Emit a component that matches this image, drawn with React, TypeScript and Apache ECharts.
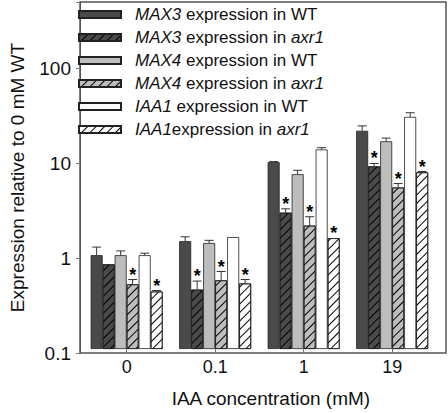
import React, { useEffect, useRef } from "react";
import * as echarts from "echarts";

const categories = ["0", "0.1", "1", "19"];
const seriesNames = [
  "MAX3 expression in WT",
  "MAX3 expression in axr1",
  "MAX4 expression in WT",
  "MAX4 expression in axr1",
  "IAA1 expression in WT",
  "IAA1expression in axr1",
];
const max3WT = [1.0, 1.41, 9.8, 21.2];
const max3Axr1 = [0.8, 0.43, 2.84, 8.85];
const max4WT = [1.0, 1.35, 7.3, 16.4];
const max4Axr1 = [0.49, 0.54, 2.07, 5.27];
const iaa1WT = [1.0, 1.56, 13.4, 29.8];
const iaa1Axr1 = [0.41, 0.5, 1.52, 7.64];
// upper ends of error bars (null = no visible bar)
const max3WTErr = [1.22, 1.57, 9.95, 23.9];
const max3Axr1Err = [null, 0.53, 3.12, 9.5];
const max4WTErr = [1.11, 1.44, 8.04, 17.7];
const max4Axr1Err = [0.55, 0.67, 2.57, 5.8];
const iaa1WTErr = [1.05, null, 14.0, 33.0];
const iaa1Axr1Err = [0.42, 0.55, null, 7.8];
// significance stars
const max3WTSig = [0, 0, 0, 0];
const max3Axr1Sig = [0, 1, 1, 1];
const max4WTSig = [0, 0, 0, 0];
const max4Axr1Sig = [1, 1, 1, 1];
const iaa1WTSig = [0, 0, 0, 0];
const iaa1Axr1Sig = [1, 1, 1, 1];
const yTicks = [0.1, 1, 10, 100];

const FONT = "'Liberation Sans', Arial, sans-serif";
const BAR_W = 12;

export default function App() {
  const ref = useRef<HTMLDivElement>(null);
  useEffect(() => {
    if (!ref.current) return;
    const chart = echarts.init(ref.current, undefined, { renderer: "svg" });
    const values = [max3WT, max3Axr1, max4WT, max4Axr1, iaa1WT, iaa1Axr1];
    const errs = [max3WTErr, max3Axr1Err, max4WTErr, max4Axr1Err, iaa1WTErr, iaa1Axr1Err];
    const sigs = [max3WTSig, max3Axr1Sig, max4WTSig, max4Axr1Sig, iaa1WTSig, iaa1Axr1Sig];
    const fills = ["#4a4a4a", "#4a4a4a", "#bdbdbd", "#bdbdbd", "#ffffff", "#ffffff"];
    const hatched = [false, true, false, true, false, true];

    const barSeries = values.map((vals, si) => ({
      type: "bar",
      name: seriesNames[si],
      xAxisIndex: 1,
      yAxisIndex: 1,
      data: vals,
      barWidth: BAR_W,
      barGap: "0%",
      itemStyle: {
        color: fills[si],
        borderColor: "#222",
        borderWidth: 0.8,
        decal: hatched[si]
          ? {
              symbol: "rect",
              symbolSize: 1,
              dashArrayX: [1, 0],
              dashArrayY: [0.9, 4.2],
              rotation: -Math.PI / 4,
              color: "#000",
            }
          : "none",
      },
    }));

    const errData: any[] = [];
    values.forEach((vals, si) => {
      vals.forEach((v, ci) => {
        const e = errs[si][ci];
        errData.push([ci, e == null ? v : e, v, si, sigs[si][ci], e == null ? 0 : 1]);
      });
    });

    const errSeries = {
      type: "custom",
      xAxisIndex: 1,
      yAxisIndex: 1,
      z: 5,
      encode: { x: 0, y: 1 },
      data: errData,
      renderItem: (params: any, api: any) => {
        const ci = api.value(0);
        const top = api.value(1);
        const base = api.value(2);
        const si = api.value(3);
        const star = api.value(4);
        const hasErr = api.value(5);
        const pTop = api.coord([ci, top]);
        const pBase = api.coord([ci, base]);
        const x = pTop[0] + (si - 2.5) * BAR_W;
        const children: any[] = [];
        if (hasErr) {
          children.push({
            type: "line",
            shape: { x1: x, y1: pBase[1], x2: x, y2: pTop[1] },
            style: { stroke: "#333", lineWidth: 1 },
          });
          children.push({
            type: "line",
            shape: { x1: x - 4.5, y1: pTop[1], x2: x + 4.5, y2: pTop[1] },
            style: { stroke: "#333", lineWidth: 1 },
          });
        }
        if (star) {
          children.push({
            type: "text",
            style: {
              text: "*",
              x: x,
              y: pTop[1] - 5,
              align: "center",
              verticalAlign: "middle",
              font: `bold 18px ${FONT}`,
              fill: "#000",
            },
          });
        }
        return { type: "group", children };
      },
    };

    const option: any = {
      animation: false,
      backgroundColor: "#fff",
      textStyle: { fontFamily: FONT },
      grid: [
        {
          left: 72,
          right: 2,
          top: 2,
          bottom: 60,
          show: true,
          borderColor: "#555",
          borderWidth: 1.5,
          backgroundColor: "transparent",
        },
        { left: 82.4, width: 354, top: 2, bottom: 60 },
      ],
      legend: {
        orient: "vertical",
        left: 78,
        top: 6,
        padding: 0,
        itemGap: 6,
        itemWidth: 42,
        itemHeight: 7,
        icon: "rect",
        data: seriesNames,
        formatter: (name: string) =>
          name.replace(/^(MAX3|MAX4|IAA1)/, "{i|$1}").replace(/axr1$/, "{i|axr1}"),
        textStyle: {
          fontFamily: FONT,
          fontSize: 17,
          color: "#111",
          padding: [0, 0, 0, 9],
          rich: { i: { fontStyle: "italic", fontSize: 17, fontFamily: FONT, color: "#111" } },
        },
      },
      xAxis: [
        { type: "category", gridIndex: 0, data: categories, show: false },
        {
          type: "category",
          gridIndex: 1,
          data: categories,
          axisLine: { show: false },
          axisTick: { show: true, alignWithLabel: true, length: 4, lineStyle: { color: "#777" } },
          axisLabel: { fontSize: 18, color: "#111", margin: 9, fontFamily: FONT },
          name: "IAA concentration (mM)",
          nameLocation: "middle",
          nameGap: 40,
          nameTextStyle: { fontSize: 19, color: "#111", fontFamily: FONT, padding: [0, 0, 0, 23] },
        },
      ],
      yAxis: [
        {
          type: "log",
          logBase: 10,
          gridIndex: 0,
          min: yTicks[0],
          max: 500,
          axisLine: { show: true, lineStyle: { color: "#555" } },
          axisTick: { show: true, length: 4, lineStyle: { color: "#777" } },
          splitLine: { show: false },
          axisLabel: {
            fontSize: 19,
            color: "#111",
            margin: 9,
            fontFamily: FONT,
            formatter: (v: number) => {
              const hit = yTicks.find((t) => Math.abs(t - v) / t < 1e-6);
              return hit != null ? String(hit) : "";
            },
          },
          name: "Expression relative to 0 mM WT",
          nameLocation: "middle",
          nameRotate: 90,
          nameGap: 53,
          nameTextStyle: { fontSize: 19, color: "#111", fontFamily: FONT, padding: [0, 0, 0, 0] },
        },
        {
          type: "log",
          logBase: 10,
          gridIndex: 1,
          min: yTicks[0],
          max: 500,
          startValue: yTicks[0],
          show: false,
          splitLine: { show: false },
        },
      ],
      series: [...barSeries, errSeries],
    };
    chart.setOption(option);
    return () => chart.dispose();
  }, []);
  return <div ref={ref} style={{ width: 448, height: 413, position: "absolute", left: 0, top: 0 }} />;
}
